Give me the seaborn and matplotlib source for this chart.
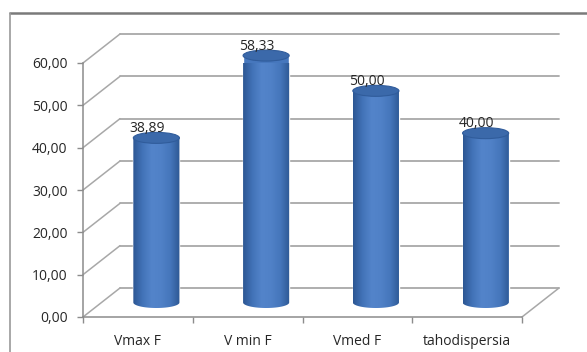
import numpy as np
import pandas as pd
import matplotlib
matplotlib.use("Agg")
import matplotlib.pyplot as plt
import seaborn as sns
from matplotlib.patches import Ellipse, PathPatch
from matplotlib.path import Path
from matplotlib.lines import Line2D
from matplotlib.colors import LinearSegmentedColormap

# data
categories = ["Vmax F", "V min F", "Vmed F", "tahodispersia"]
values = [38.89, 58.33, 50.00, 40.00]
y_ticks = [0, 10, 20, 30, 40, 50, 60]

sns.set_theme(style="white")
plt.rcParams["font.family"] = ["Open Sans", "DejaVu Sans"]

W, H = 587, 352
fig = plt.figure(figsize=(W / 100, H / 100), dpi=100)
ax = fig.add_axes([83 / W, 35 / H, 439 / W, 254 / H])

df = pd.DataFrame({"category": categories, "value": values})
sns.barplot(data=df, x="category", y="value", width=0.42, color="#4677bd",
            saturation=1, ax=ax, zorder=2)
ax.set_xlim(-0.5, 3.5)
ax.set_ylim(0, 60)

# pixel -> data scale, used for the pseudo-3D depth of walls and floor
p0, p1 = ax.transData.transform([(0, 0), (1, 1)])
ppx, ppy = p1 - p0
depth_x = 37 / ppx
depth_y = 29 / ppy
ell_b = 5.5 / ppy  # half height of the cylinder end caps

grid_col = "#a8a8a8"
x_left, x_right = -0.5, 3.5
text_col = "#262626"
fs = 10

# back wall gridlines and side wall diagonals
for t in y_ticks:
    ax.plot([x_left + depth_x, x_right + depth_x], [t + depth_y, t + depth_y],
            color=grid_col, lw=1.3, clip_on=False, zorder=0.5)
    ax.plot([x_left, x_left + depth_x], [t, t + depth_y],
            color=grid_col, lw=1.1, clip_on=False, zorder=0.5)
# floor right edge
ax.plot([x_right, x_right + depth_x], [0, depth_y], color=grid_col, lw=1.1,
        clip_on=False, zorder=0.5)

# cylinder shading
body_cmap = LinearSegmentedColormap.from_list(
    "cyl", ["#2c5693", "#4273b8", "#5384ca", "#5081c7", "#4576bb", "#2d5894"])
grad = np.linspace(0, 1, 200)[None, :]

for patch, val in zip(ax.patches, values):
    x0 = patch.get_x() + depth_x / 2
    w = patch.get_width()
    patch.set_x(x0)
    patch.set_y(depth_y / 2)
    patch.set_clip_on(False)
    cx = x0 + w / 2
    base = depth_y / 2
    top = base + patch.get_height()

    ts = np.linspace(np.pi, 2 * np.pi, 60)
    verts = [(x0, top), (x0, base)]
    verts += [(cx + w / 2 * np.cos(a), base + ell_b * np.sin(a)) for a in ts]
    verts += [(x0 + w, top), (x0, top)]
    codes = [Path.MOVETO] + [Path.LINETO] * (len(verts) - 2) + [Path.CLOSEPOLY]
    body = PathPatch(Path(verts, codes), facecolor="none", edgecolor="none",
                     transform=ax.transData)
    ax.add_patch(body)
    body.set_clip_on(False)

    im = ax.imshow(grad, cmap=body_cmap, aspect="auto",
                   extent=[x0, x0 + w, base - ell_b, top], zorder=2.5,
                   interpolation="bilinear")
    im.set_clip_path(body)

    cap = Ellipse((cx, top), w, 2 * ell_b, facecolor="#3b69aa",
                  edgecolor="#305c9b", lw=0.8, zorder=3, clip_on=False)
    ax.add_patch(cap)

    ax.text(cx - 9 / ppx, top + ell_b + 0.3 / ppy,
            f"{val:.2f}".replace(".", ","), ha="center", va="baseline",
            fontsize=fs, color=text_col, zorder=4, clip_on=False)

ax.set_xlim(-0.5, 3.5)
ax.set_ylim(0, 60)

# axes styling
for s in ["top", "right"]:
    ax.spines[s].set_visible(False)
for s in ["left", "bottom"]:
    ax.spines[s].set_color("#8c8c8c")
    ax.spines[s].set_linewidth(1.1)

ax.set_yticks(y_ticks)
ax.set_yticklabels([f"{t:.2f}".replace(".", ",") for t in y_ticks])
ax.tick_params(axis="y", length=4, width=1, color="#8c8c8c", pad=7,
               labelsize=fs, labelcolor=text_col, left=True)
ax.set_xticks(range(len(categories)))
ax.set_xticklabels(categories)
ax.set_xticks([-0.5, 0.5, 1.5, 2.5, 3.5], minor=True)
ax.tick_params(axis="x", which="major", length=0, pad=12, labelsize=fs,
               labelcolor=text_col)
ax.tick_params(axis="x", which="minor", length=4, width=1, color="#8c8c8c",
               bottom=True)
ax.set_xlabel("")
ax.set_ylabel("")

# chart frame
fig.add_artist(Line2D([10 / W, 1], [1 - 13 / H, 1 - 13 / H],
                      transform=fig.transFigure, color="#7a7a7a", lw=1.8))
fig.add_artist(Line2D([10 / W, 10 / W], [0, 1 - 13 / H],
                      transform=fig.transFigure, color="#9a9a9a", lw=1.2))

fig.savefig("out.png", dpi=100)
